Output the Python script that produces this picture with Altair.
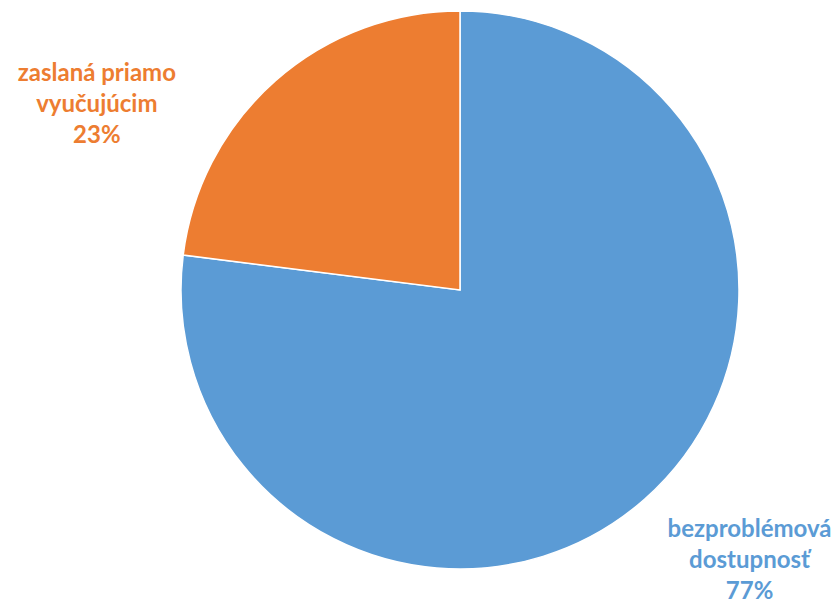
import altair as alt
import pandas as pd
import math

categories = ["bezproblémová\ndostupnosť", "zaslaná priamo\nvyučujúcim"]
values = [77, 23]
colors = ["#5B9BD5", "#ED7D31"]
label_colors = ["#5B9BD5", "#ED7D31"]

df = pd.DataFrame({
    "cat": categories,
    "val": values,
    "order": [0, 1],
})
df["label"] = df["cat"] + "\n" + df["val"].astype(str) + "%"

theta_scale = alt.Scale(domain=[0, 100], range=[0, 2 * math.pi])

pie = alt.Chart(df).mark_arc(outerRadius=279, stroke="white", strokeWidth=1.5).encode(
    theta=alt.Theta("val:Q", stack=True, scale=theta_scale),
    order=alt.Order("order:Q"),
    color=alt.Color("cat:N", scale=alt.Scale(domain=categories, range=colors), legend=None),
)

txt_common = dict(fontSize=24, fontWeight="bold", font="Lato", lineBreak="\n",
                  lineHeight=31, align="center", baseline="middle")

lab = alt.Chart(df).transform_window(
    cum="sum(val)", sort=[alt.SortField("order")]
).transform_calculate(
    mid="datum.cum - datum.val / 2"
)

blue_txt = lab.transform_filter(alt.datum.order == 0).mark_text(
    radius=397, dx=27, dy=-58, color=label_colors[0], **txt_common
).encode(theta=alt.Theta("mid:Q", scale=theta_scale), text="label:N")

orange_txt = lab.transform_filter(alt.datum.order == 1).mark_text(
    radius=410, dx=-92, dy=92, color=label_colors[1], **txt_common
).encode(theta=alt.Theta("mid:Q", scale=theta_scale), text="label:N")

chart = alt.layer(pie, blue_txt, orange_txt).properties(
    width=744, height=564,
    autosize=alt.AutoSizeParams(type="none"),
    padding={"left": 80, "top": 0, "right": 0, "bottom": 33},
).configure_view(stroke=None)

chart.save("out.html", embed_options={"renderer": "svg", "actions": False})
